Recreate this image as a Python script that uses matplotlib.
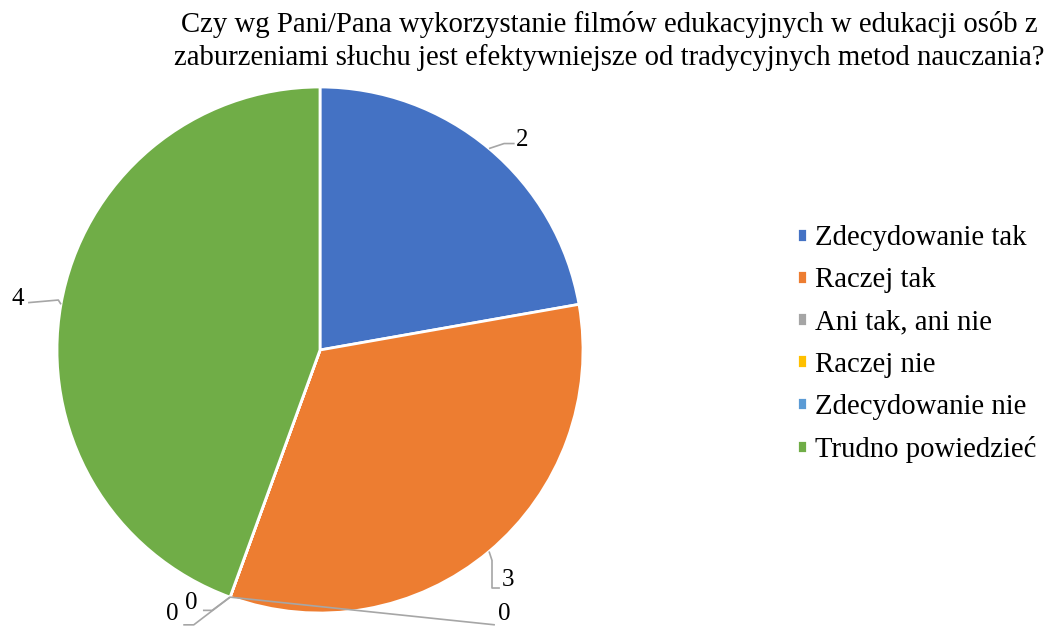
import matplotlib
matplotlib.use("Agg")
import matplotlib.pyplot as plt
import numpy as np

categories = ["Zdecydowanie tak", "Raczej tak", "Ani tak, ani nie",
              "Raczej nie", "Zdecydowanie nie", "Trudno powiedzieć"]
values = [2, 3, 0, 0, 0, 4]
colors = ["#4472C4", "#ED7D31", "#A5A5A5", "#FFC000", "#5B9BD5", "#70AD47"]
title = ("Czy wg Pani/Pana wykorzystanie filmów edukacyjnych w edukacji osób z\n"
         "zaburzeniami słuchu jest efektywniejsze od tradycyjnych metod nauczania?")

plt.rcParams['font.family'] = ['Liberation Serif', 'DejaVu Serif']

W, H = 1054, 627
fig = plt.figure(figsize=(W / 100, H / 100), dpi=100)
cx, cy, R = 320, 350, 263
ax = fig.add_axes([(cx - R) / W, (H - cy - R) / H, 2 * R / W, 2 * R / H])
wedges, _ = ax.pie(values, colors=colors, startangle=90, counterclock=False,
                   radius=1, wedgeprops=dict(edgecolor="white", linewidth=2))
ax.set_xlim(-1, 1)
ax.set_ylim(-1, 1)
ax.set_aspect("equal")
ax.axis("off")

lc = "#A6A6A6"
def edge_point(i):
    w = wedges[i]
    ang = np.deg2rad((w.theta1 + w.theta2) / 2)
    return np.cos(ang), np.sin(ang)

fs_lab = 18
label_specs = {
    0: dict(path=[(0.70, 0.785), (0.74, 0.785)], text=(0.77, 0.80)),
    1: dict(path=[(0.654, -0.80), (0.654, -0.905), (0.684, -0.905)], text=(0.715, -0.875)),
    2: dict(path=[(-0.41, -0.99), (-0.445, -0.99)], text=(-0.49, -0.962)),
    3: dict(path=[(-0.48, -1.045), (-0.52, -1.045)], text=(-0.56, -1.005)),
    4: dict(path=[(0.665, -1.045)], text=(0.70, -1.005)),
    5: dict(path=[(-0.995, 0.19), (-1.11, 0.18)], text=(-1.15, 0.195)),
}
for i, v in enumerate(values):
    sp = label_specs[i]
    x0, y0 = edge_point(i)
    pts = [(x0, y0)] + sp["path"]
    xs, ys = zip(*pts)
    ax.plot(xs, ys, color=lc, lw=1.2, clip_on=False, solid_capstyle="butt")
    ax.text(sp["text"][0], sp["text"][1], str(v), fontsize=fs_lab,
            ha="center", va="center", clip_on=False)

fig.text(0.578, 0.983, title, ha="center", va="top", fontsize=20.7,
         linespacing=1.3)

leg = fig.legend(wedges, categories, loc="center left",
                 bbox_to_anchor=(0.7454, 0.4514), frameon=False, fontsize=20.7,
                 handlelength=0.35, handleheight=0.35, handletextpad=0.28,
                 labelspacing=0.56, borderaxespad=0)

fig.savefig("out.png", dpi=100)
